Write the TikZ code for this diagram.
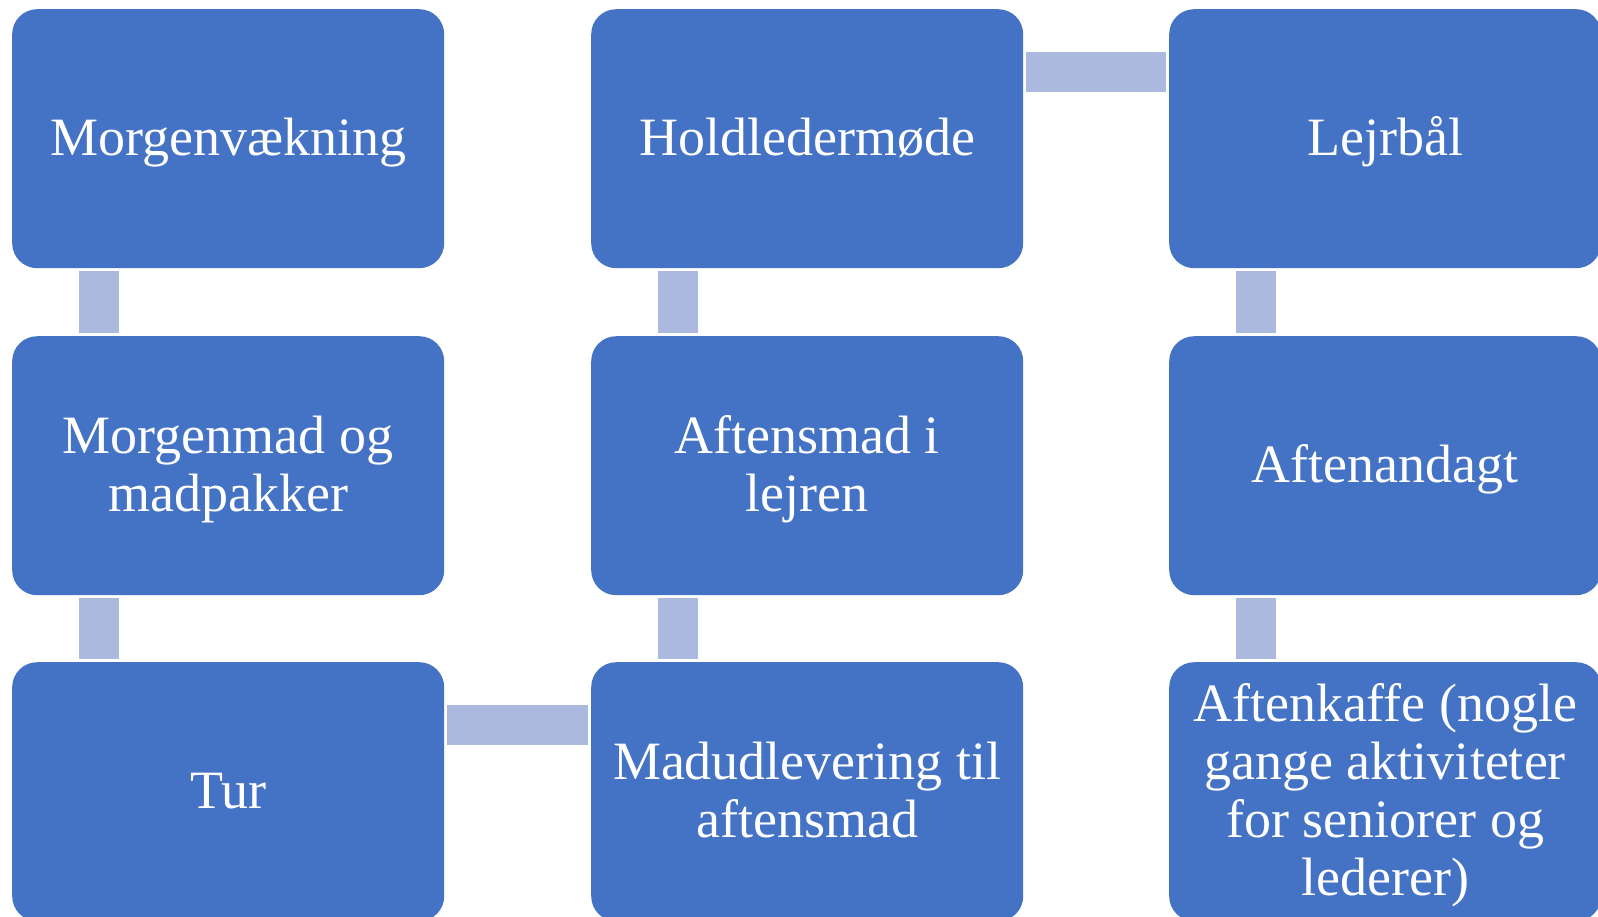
\documentclass[tikz,border=0pt]{standalone}
\usepackage{fontspec}
\setmainfont{Liberation Serif}
\definecolor{boxblue}{HTML}{4472C4}
\definecolor{barblue}{HTML}{ACB9DE}
\newcommand{\tophgt}{\rule{0pt}{48pt}}
\newcommand{\botdpt}{\rule[-14pt]{0pt}{14pt}}
\tikzset{
  stagebox/.style={fill=boxblue, draw=none, rounded corners=25pt, minimum width=432pt, minimum height=259pt,
    anchor=north west, text=white, align=center, inner sep=0pt,
    font=\fontsize{54pt}{58pt}\selectfont},
  barfill/.style={fill=barblue, draw=none}
}
\begin{document}
\begin{tikzpicture}[x=1pt,y=-1pt]
\useasboundingbox (0,0) rectangle (1598,916);
% column 1
\node[stagebox] (a1) at (12,9) {\tophgt Morgenvækning\botdpt};
\node[stagebox] (a2) at (12,336) {\tophgt Morgenmad og\\madpakker\botdpt};
\node[stagebox] (a3) at (12,662) {\tophgt Tur\botdpt};
% column 2
\node[stagebox] (b1) at (591,9) {\tophgt Holdledermøde\botdpt};
\node[stagebox] (b2) at (591,336) {\tophgt Aftensmad i\\lejren\botdpt};
\node[stagebox] (b3) at (591,662) {\tophgt Madudlevering til\\aftensmad\botdpt};
% column 3
\node[stagebox] (c1) at (1169,9) {\tophgt Lejrbål\botdpt};
\node[stagebox] (c2) at (1169,336) {\tophgt Aftenandagt\botdpt};
\node[stagebox] (c3) at (1169,662) {\tophgt Aftenkaffe (nogle\\gange aktiviteter\\for seniorer og\\lederer)\botdpt};
% vertical connectors (upper node / lower node)
\foreach \u/\v in {a1/a2, a2/a3, b1/b2, b2/b3, c1/c2, c2/c3}{
  \fill[barfill] ([xshift=67pt,yshift=-3pt]\u.south west) rectangle ([xshift=107pt,yshift=3pt]\v.north west);
}
% horizontal connectors
\fill[barfill] ([xshift=3pt,yshift=-43pt]a3.north east) rectangle ([xshift=-3pt,yshift=-83pt]b3.north west);
\fill[barfill] ([xshift=3pt,yshift=-43pt]b1.north east) rectangle ([xshift=-3pt,yshift=-83pt]c1.north west);
\end{tikzpicture}
\end{document}
